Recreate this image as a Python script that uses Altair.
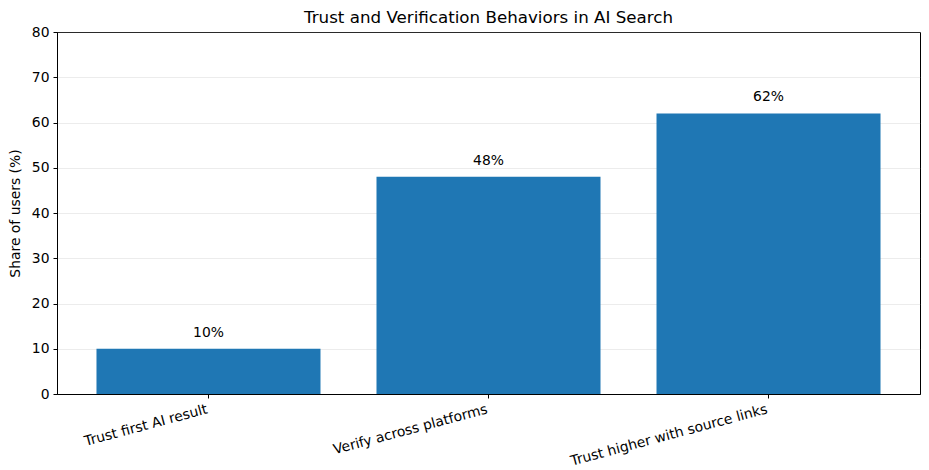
import altair as alt
import pandas as pd

categories = ["Trust first AI result", "Verify across platforms", "Trust higher with source links"]
values = [10, 48, 62]
labels = ["10%", "48%", "62%"]

df = pd.DataFrame({"cat": categories, "val": values, "lab": labels})

FONT = "DejaVu Sans"

x = alt.X("cat:N", sort=categories, title=None,
          scale=alt.Scale(paddingInner=0.2, paddingOuter=0.141),
          axis=alt.Axis(labelAngle=-15, labelAlign="right", labelBaseline="top",
                        labelFontSize=13.9, labelColor="black", tickColor="black",
                        domainColor="black", tickSize=4, labelPadding=4, labelOffset=-3,
                        labelFont=FONT, labelLimit=400))
y = alt.Y("val:Q", title="Share of users (%)",
          scale=alt.Scale(domain=[0, 80], nice=False),
          axis=alt.Axis(values=[0, 10, 20, 30, 40, 50, 60, 70, 80], grid=True,
                        gridColor="#b0b0b0", gridOpacity=0.3, gridWidth=0.8,
                        labelFontSize=13.9, labelColor="black", tickColor="black",
                        domainColor="black", tickSize=4, labelPadding=4,
                        titleFontSize=13.9, titleFontWeight="normal", titleColor="black",
                        titlePadding=9, labelFont=FONT, titleFont=FONT))

bars = alt.Chart(df).mark_bar(color="#1f77b4").encode(x=x, y=y)

text = alt.Chart(df).mark_text(baseline="bottom", dy=-9, fontSize=13.9, font=FONT,
                               color="black").encode(
    x=alt.X("cat:N", sort=categories), y=alt.Y("val:Q"), text="lab:N")

chart = (bars + text).properties(
    width=863, height=362,
    title=alt.TitleParams("Trust and Verification Behaviors in AI Search",
                          fontSize=16.7, fontWeight="normal", font=FONT, color="black",
                          offset=-2),
    autosize=alt.AutoSizeParams(type="none"),
    padding={"left": 49, "top": 24, "right": 1, "bottom": 76},
).configure_view(stroke="black", strokeWidth=1)

chart.save("out.html", embed_options={"renderer": "svg", "actions": False})
